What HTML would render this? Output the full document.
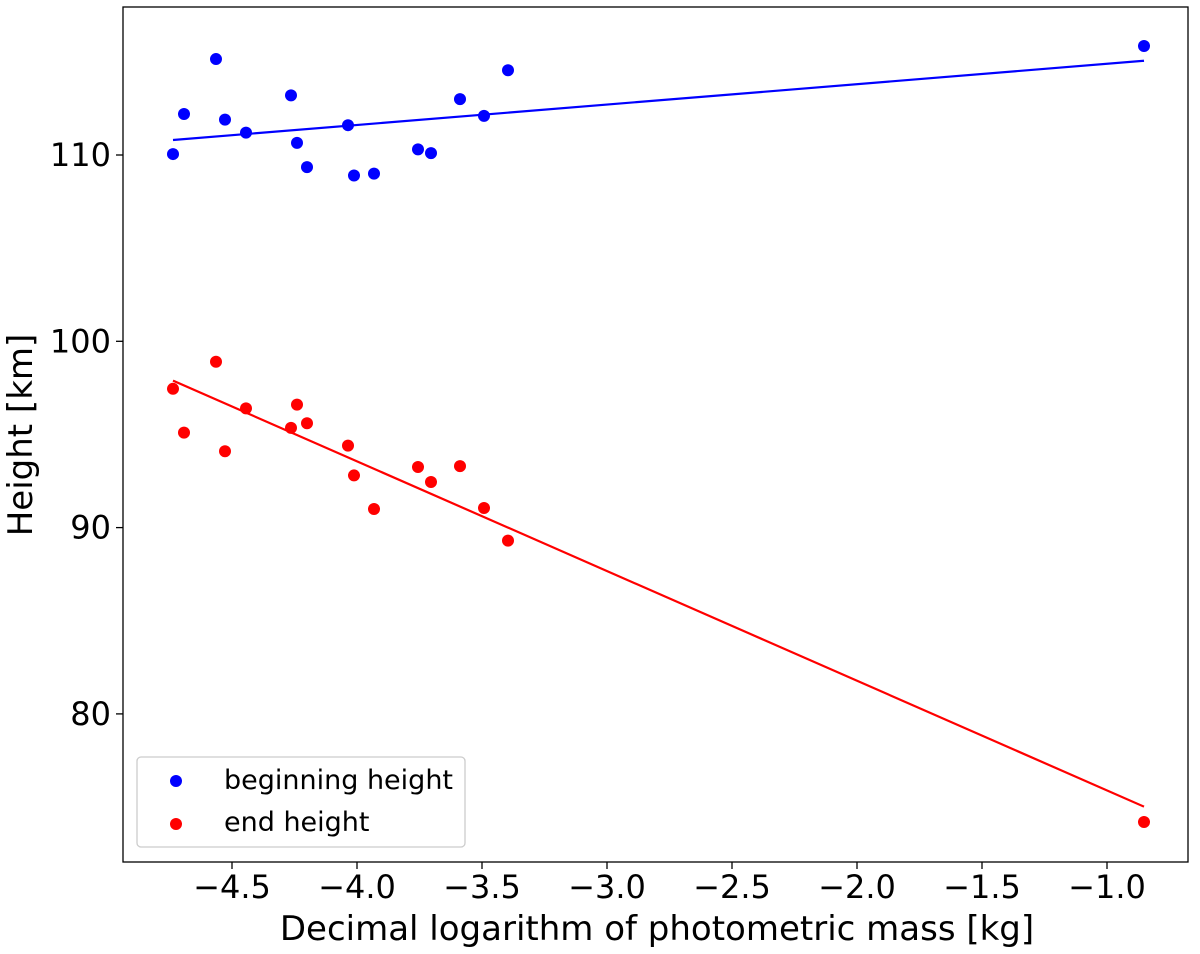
<!DOCTYPE html>
<html><head><meta charset="utf-8"><style>
body{margin:0;background:#fff;}
svg{display:block;font-family:"DejaVu Sans","Liberation Sans",sans-serif;}
</style></head><body>
<svg id="chart" width="1200" height="954" xmlns="http://www.w3.org/2000/svg">
<g id="plot"></g>
</svg>
<script>
const xBegin=[-4.736,-4.692,-4.564,-4.528,-4.444,-4.264,-4.24,-4.2,-4.036,-4.012,-3.932,-3.756,-3.704,-3.588,-3.492,-3.396,-0.852];
const beginHeight=[110.05,112.2,115.15,111.9,111.2,113.2,110.65,109.35,111.6,108.9,109.0,110.3,110.1,113.0,112.1,114.55,115.85];
const endHeight=[97.45,95.1,98.9,94.1,96.4,95.35,96.6,95.6,94.4,92.8,91.0,93.25,92.45,93.3,91.05,89.3,74.2];
const xTicks=[-4.5,-4.0,-3.5,-3.0,-2.5,-2.0,-1.5,-1.0];
const yTicks=[80,90,100,110];

const NS="http://www.w3.org/2000/svg";
const svg=document.getElementById('chart');
const plot=document.getElementById('plot');
const L=123,R=1188,T=7,B=862;
function xs(v){return 232+(v+4.5)*250;}
function ys(v){return 155-(v-110)*18.63;}
function mk(tag,attrs,parent){const e=document.createElementNS(NS,tag);for(const k in attrs)e.setAttribute(k,attrs[k]);(parent||svg).appendChild(e);return e;}

const frame=mk('rect',{x:L,y:T,width:R-L,height:B-T,fill:'none',stroke:'#000','stroke-width':1.3});



xTicks.forEach(t=>{
  const x=xs(t);
  const tk=mk('line',{x1:x,x2:x,y1:B,y2:B+7,stroke:'#000','stroke-width':1.3});
  
  
  const tx=mk('text',{x:x,y:898,'text-anchor':'middle','font-size':32});
  tx.textContent=(t.toFixed(1)).replace('-','\u2212');
  
  
});
yTicks.forEach(t=>{
  const y=ys(t);
  const tk=mk('line',{x1:L-7,x2:L,y1:y,y2:y,stroke:'#000','stroke-width':1.3});
  
  
  const tx=mk('text',{x:L-12,y:y+11,'text-anchor':'end','font-size':32});
  tx.textContent=String(t);
  
  
});
const xl=mk('text',{x:657,y:940,'text-anchor':'middle','font-size':34});
xl.textContent='Decimal logarithm of photometric mass [kg]';


const yl=mk('text',{x:0,y:0,'text-anchor':'middle','font-size':34,transform:'translate(32,435) rotate(-90)'});
yl.textContent='Height [km]';



function fit(xa,ya){const n=xa.length;let sx=0,sy=0,sxx=0,sxy=0;for(let i=0;i<n;i++){sx+=xa[i];sy+=ya[i];sxx+=xa[i]*xa[i];sxy+=xa[i]*ya[i];}const m=(n*sxy-sx*sy)/(n*sxx-sx*sx);return [m,(sy-m*sx)/n];}
function series(vals,color,name){
  const [m,b]=fit(xBegin,vals);
  const x0=Math.min(...xBegin),x1=Math.max(...xBegin);
  const ln=mk('line',{x1:xs(x0),y1:ys(m*x0+b),x2:xs(x1),y2:ys(m*x1+b),stroke:color,'stroke-width':2.2},plot);
  
  
  vals.forEach((v,i)=>{
    const c=mk('circle',{cx:xs(xBegin[i]),cy:ys(v),r:6,fill:color},plot);
    
    
  });
}
series(beginHeight,'#0000ff','beginning-height');
series(endHeight,'#ff0000','end-height');

const lg=mk('g',{});


mk('rect',{x:137,y:757,width:328,height:90,rx:4,fill:'#fff',stroke:'#ccc','stroke-width':1.3},lg);
[['beginning height','#0000ff',781,789],['end height','#ff0000',824,831]].forEach(([t,c,y,by])=>{
  const d=mk('circle',{cx:176,cy:y,r:6,fill:c},lg);
  
  
  const tx=mk('text',{x:224,y:by,'font-size':27},lg);
  tx.textContent=t;
  
  
});
</script>
</body></html>
